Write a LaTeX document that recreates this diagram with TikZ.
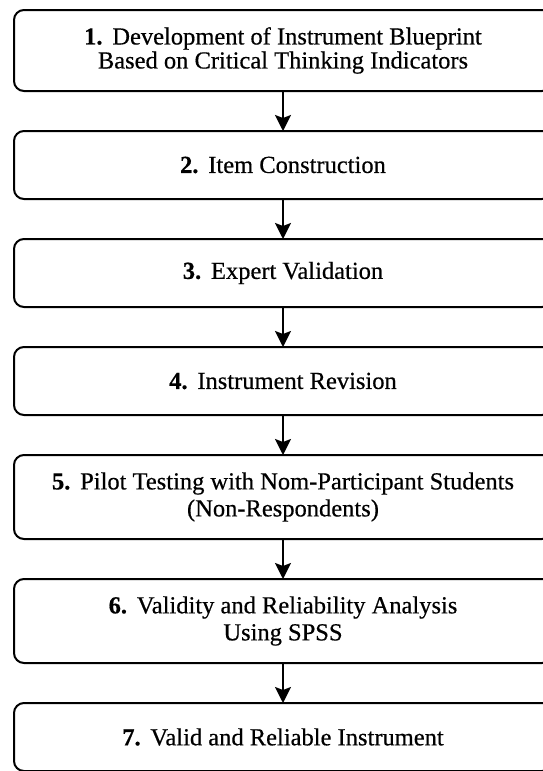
\documentclass[tikz,border=0pt]{standalone}
\usepackage{fontspec}
\setmainfont{Liberation Serif}
\newfontfamily\stepfont{Liberation Serif}[FakeBold=0.5]
\usetikzlibrary{positioning,arrows.meta}

\newcommand{\stepnum}[1]{\textbf{#1.}\hspace{0.4em}}

\tikzset{
  stepbox/.style={draw,line width=2pt,rounded corners=10pt,outer sep=0pt,
    minimum width=538pt,minimum height=68pt,align=center,
    font=\stepfont\fontsize{24.5}{27}\selectfont},
  flow/.style={->,line width=2pt},
}

\begin{document}
\begin{tikzpicture}[x=1pt,y=1pt,>={Stealth[length=16pt,width=16pt,inset=3pt]},
  node distance=40pt]
  \useasboundingbox (0,0) rectangle (542,-771);

  \node[stepbox,minimum height=81pt] (s1) at (283,-50.5)
    {\stepnum{1}Development of Instrument Blueprint\\[-3pt]
     Based on Critical Thinking Indicators};
  \node[stepbox,below=of s1] (s2) {\stepnum{2}Item Construction};
  \node[stepbox,below=of s2] (s3) {\stepnum{3}Expert Validation};
  \node[stepbox,below=of s3] (s4) {\stepnum{4}Instrument Revision};
  \node[stepbox,below=of s4,minimum height=84pt] (s5)
    {\stepnum{5}Pilot Testing with Nom-Participant Students\\
     (Non-Respondents)};
  \node[stepbox,below=of s5,minimum height=84pt] (s6)
    {\stepnum{6}Validity and Reliability Analysis\\
     Using SPSS};
  \node[stepbox,below=of s6] (s7) {\stepnum{7}Valid and Reliable Instrument};

  % arrows down the chain
  \foreach \a/\b in {s1/s2,s2/s3,s3/s4,s4/s5,s5/s6,s6/s7}
    \draw[flow] (\a) -- (\b);
\end{tikzpicture}
\end{document}
